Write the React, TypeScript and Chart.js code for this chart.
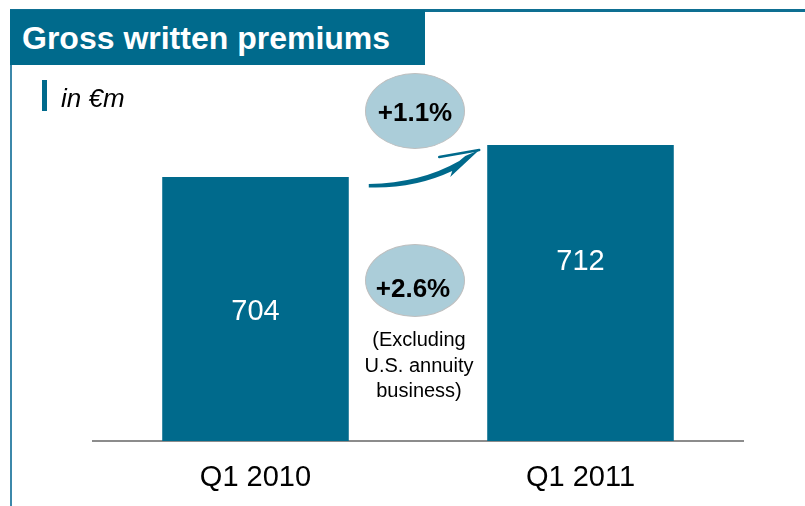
import React, { useEffect, useRef } from "react";
import { Chart, registerables } from "chart.js";

Chart.register(...registerables);

// ---- data ----
const categories = ["Q1 2010", "Q1 2011"];
const premiums = [704, 712];
const titleText = "Gross written premiums";
const unitText = "in €m";
const growthTotal = "+1.1%";
const growthExUS = "+2.6%";
const noteLines = ["(Excluding", "U.S. annuity", "business)"];

// ---- styles ----
const TEAL = "#006A8C";
const FONT = '"Liberation Sans", Arial, Helvetica, sans-serif';

const overlayPlugin = {
  id: "overlay",
  afterDatasetsDraw(chart: any) {
    const ctx = chart.ctx as CanvasRenderingContext2D;
    const meta = chart.getDatasetMeta(0);
    const labelDrop = [143, 125];
    ctx.save();
    // value labels
    ctx.fillStyle = "#ffffff";
    ctx.font = `29px ${FONT}`;
    ctx.textAlign = "center";
    ctx.textBaseline = "alphabetic";
    meta.data.forEach((bar: any, i: number) => {
      ctx.fillText(String(premiums[i]), bar.x, bar.y + labelDrop[i]);
    });
    // growth arrow between the bars
    const b1 = meta.data[0];
    const b2 = meta.data[1];
    const sx = b1.x + b1.width / 2 + 20;
    const sy = b1.y + 8;
    const tx = b2.x - b2.width / 2 - 8;
    const ty = b2.y + 5;
    ctx.fillStyle = TEAL;
    ctx.strokeStyle = TEAL;
    ctx.beginPath();
    ctx.moveTo(sx, sy - 1);
    ctx.quadraticCurveTo(sx + 52, sy - 2, tx - 20, ty + 11);
    ctx.lineTo(tx - 14, ty + 6);
    ctx.lineTo(tx, ty);
    ctx.lineTo(tx - 29, ty + 27);
    ctx.lineTo(tx - 27, ty + 21);
    ctx.quadraticCurveTo(sx + 45, sy + 4, sx, sy + 2.5);
    ctx.closePath();
    ctx.fill();
    ctx.lineWidth = 2.5;
    ctx.lineCap = "round";
    ctx.beginPath();
    ctx.moveTo(tx, ty);
    ctx.lineTo(tx - 40, ty + 7);
    ctx.stroke();
    ctx.restore();
  },
};

export default function App() {
  const canvasRef = useRef<HTMLCanvasElement | null>(null);

  useEffect(() => {
    if (!canvasRef.current) return;
    const chart = new Chart(canvasRef.current, {
      type: "bar",
      data: {
        labels: categories,
        datasets: [
          {
            data: premiums,
            backgroundColor: TEAL,
            borderWidth: 0,
            barPercentage: 0.574,
            categoryPercentage: 1,
          },
        ],
      },
      options: {
        responsive: false,
        animation: false,
        layout: { padding: { top: 113, left: 93, right: 62, bottom: 0 } },
        plugins: { legend: { display: false }, tooltip: { enabled: false } },
        scales: {
          x: {
            grid: { display: false },
            border: { display: true, color: "#8c8c8c", width: 2 },
            ticks: {
              color: "#000000",
              font: { family: FONT, size: 29 },
              padding: 12,
            },
            afterFit: (s: any) => {
              s.height = 65;
            },
          },
          y: { display: false, min: 638, max: 720 },
        },
      },
      plugins: [overlayPlugin],
    } as any);
    return () => chart.destroy();
  }, []);

  const abs = (o: React.CSSProperties): React.CSSProperties => ({
    position: "absolute",
    margin: 0,
    padding: 0,
    ...o,
  });

  return (
    <div
      style={abs({
        left: 0,
        top: 0,
        width: 805,
        height: 506,
        overflow: "hidden",
        background: "#ffffff",
        fontFamily: FONT,
      })}
    >
      <canvas ref={canvasRef} width={805} height={506} style={abs({ left: 0, top: 0 })} />
      {/* frame lines */}
      <div style={abs({ left: 10, top: 9, width: 795, height: 2.5, background: "#0e6f92" })} />
      <div style={abs({ left: 10, top: 10, width: 1.5, height: 496, background: "#3c88aa" })} />
      {/* title box */}
      <div style={abs({ left: 10, top: 10, width: 415, height: 55, background: TEAL })} />
      <div
        style={abs({
          left: 22,
          top: 19,
          fontSize: 32,
          lineHeight: "38.4px",
          fontWeight: "bold",
          color: "#ffffff",
          whiteSpace: "nowrap",
        })}
      >
        {titleText}
      </div>
      {/* unit */}
      <div style={abs({ left: 42, top: 80, width: 5, height: 31, background: TEAL })} />
      <div
        style={abs({
          left: 61,
          top: 82.9,
          fontSize: 26,
          lineHeight: "31.2px",
          fontStyle: "italic",
          color: "#000000",
          whiteSpace: "nowrap",
        })}
      >
        {unitText}
      </div>
      {/* growth bubbles */}
      <div
        style={abs({
          left: 365,
          top: 73,
          width: 100,
          height: 76,
          boxSizing: "border-box",
          borderRadius: "50%",
          background: "#abcdd9",
          border: "1.5px solid #bfbfbf",
        })}
      />
      <div
        style={abs({
          left: 365,
          top: 97.1,
          width: 100,
          textAlign: "center",
          fontSize: 26,
          lineHeight: "31.2px",
          fontWeight: "bold",
          color: "#000000",
        })}
      >
        {growthTotal}
      </div>
      <div
        style={abs({
          left: 365,
          top: 244,
          width: 100,
          height: 73,
          boxSizing: "border-box",
          borderRadius: "50%",
          background: "#abcdd9",
          border: "1.5px solid #bfbfbf",
        })}
      />
      <div
        style={abs({
          left: 363,
          top: 273.4,
          width: 100,
          textAlign: "center",
          fontSize: 26,
          lineHeight: "31.2px",
          fontWeight: "bold",
          color: "#000000",
        })}
      >
        {growthExUS}
      </div>
      <div
        style={abs({
          left: 364,
          top: 327,
          width: 110,
          textAlign: "center",
          fontSize: 20,
          lineHeight: "25.5px",
          color: "#000000",
        })}
      >
        {noteLines.map((l, i) => (
          <div key={i}>{l}</div>
        ))}
      </div>
    </div>
  );
}
